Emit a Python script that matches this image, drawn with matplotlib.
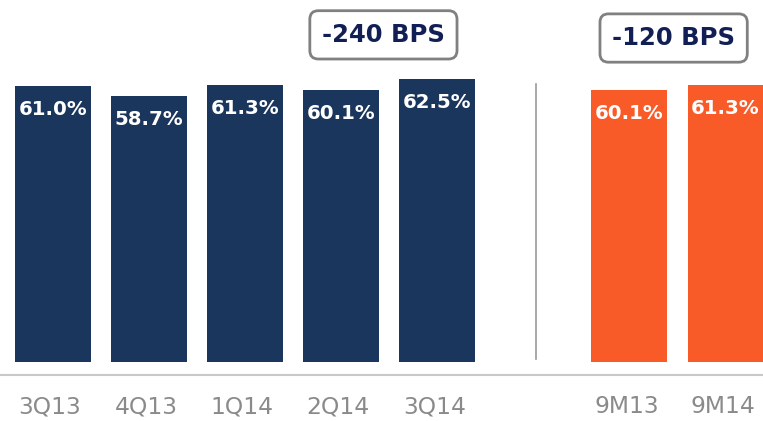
import matplotlib
matplotlib.use("Agg")
import matplotlib.pyplot as plt

categories = ["3Q13", "4Q13", "1Q14", "2Q14", "3Q14", "9M13", "9M14"]
values = [61.0, 58.7, 61.3, 60.1, 62.5, 60.1, 61.3]
positions = [0, 1, 2, 3, 4, 6, 7]
value_labels = ["61.0%", "58.7%", "61.3%", "60.1%", "62.5%", "60.1%", "61.3%"]
callouts = ["-240 BPS", "-120 BPS"]

NAVY = "#1b365d"
ORANGE = "#f85b27"
colors = [NAVY] * 5 + [ORANGE] * 2

fig = plt.figure(figsize=(7.63, 4.21), dpi=100)
ax = fig.add_axes([0, 0, 1, 1])
ax.set_xlim(-0.55, 7.39)
ax.set_ylim(-13.0, 80.0)
ax.axis("off")

ax.bar(positions, values, width=0.79, color=colors, edgecolor="none")

for p, v, lab in zip(positions, values, value_labels):
    ax.text(p, v - 5.2, lab, ha="center", va="center", color="white",
            fontsize=14.2, fontweight="bold", family="DejaVu Sans")

for p, c in zip(positions, categories):
    ax.text(p - 0.03, -9.9, c, ha="center", va="center", color="#8a8a8a",
            fontsize=16.8, family="DejaVu Sans")

# baseline axis line
ax.axhline(-2.8, color="#c8c8c8", lw=1.5)
# separator
ax.plot([5.03, 5.03], [0.6, 61.5], color="#9a9a9a", lw=1.2)

box = dict(boxstyle="round,pad=0.5,rounding_size=0.35", fc="white",
           ec="#808080", lw=2)
ax.text(3.44, 72.3, callouts[0], ha="center", va="center", color="#111f55",
        fontsize=17.5, fontweight="bold", bbox=box)
ax.text(6.46, 71.6, callouts[1], ha="center", va="center", color="#111f55",
        fontsize=17.5, fontweight="bold", bbox=box)

fig.savefig("out.png", dpi=100)
